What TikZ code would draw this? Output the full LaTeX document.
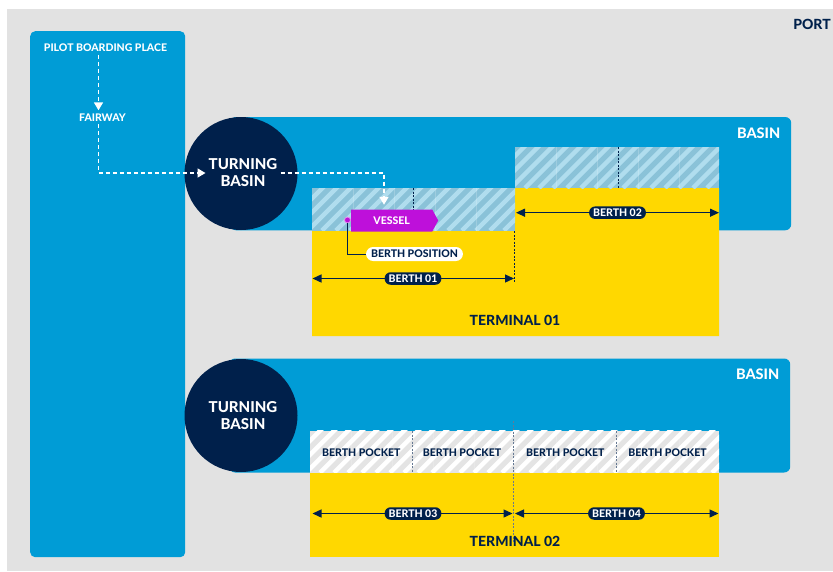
\documentclass[tikz,border=0pt]{standalone}
\usepackage{fontspec}
\setmainfont{Lato}[BoldFont={Lato Heavy}]
\usetikzlibrary{arrows.meta,calc,shapes.symbols}
\definecolor{bgray}{HTML}{E2E2E2}
\definecolor{pblue}{HTML}{009CD6}
\definecolor{navy}{HTML}{00204B}
\definecolor{pyellow}{HTML}{FFD800}
\definecolor{vmag}{HTML}{BE10DA}
\definecolor{hblue}{HTML}{8AC2D8}
\definecolor{hstripe}{HTML}{B0DDEE}
\definecolor{pgray}{HTML}{E4E4E4}
\newcommand{\myhatch}[6]{%
  \fill[#5] (#1,#2) rectangle (#3,#4);
  \begin{scope}
    \clip (#1,#2) rectangle (#3,#4);
    \foreach \k in {-60,-46,...,430} {\draw[#6, line width=4.5pt] ({#1+\k},#4) -- ++(60,-60);}
    \foreach \k in {41,82,...,400} {\draw[white, opacity=.18, line width=.6pt] ({#1+\k},#2) -- ({#1+\k},#4);}
  \end{scope}}
\tikzset{
  wtxt/.style={text=white, font=\bfseries\fontsize{10.5}{12}\selectfont, inner sep=3pt},
  bigw/.style={text=white, font=\bfseries\fontsize{15}{18}\selectfont, align=center, inner sep=3pt},
  basinlbl/.style={text=white, font=\bfseries\fontsize{14.5}{16}\selectfont, inner sep=0pt},
  termlbl/.style={text=navy, font=\bfseries\fontsize{14}{16}\selectfont, inner sep=0pt},
  pocket/.style={text=navy, font=\bfseries\fontsize{10.5}{12}\selectfont, inner sep=0pt},
  basinbox/.style={fill=pblue, rounded corners=6pt, inner sep=0pt, anchor=north west},
  tbasin/.style={circle, fill=navy, minimum size=113pt, inner sep=0pt},
  flow/.style={white, line width=1.6pt, dash pattern=on 4pt off 3pt, -{Triangle[length=8pt,width=9pt]}},
  dim/.style={navy, line width=1.3pt, {Triangle[length=9pt,width=8pt]}-{Triangle[length=9pt,width=8pt]}},
  navypill/.style={fill=navy, text=white, rounded corners=6pt, minimum height=12.5pt, inner xsep=4pt, inner ysep=0pt, font=\bfseries\fontsize{10.5}{11}\selectfont},
  whitepill/.style={fill=white, text=navy, rounded corners=7pt, minimum height=14pt, inner xsep=5pt, inner ysep=0pt, font=\bfseries\fontsize{10.5}{11}\selectfont},
  navydash/.style={navy, line width=.8pt, dash pattern=on 2pt off 1.5pt},
}
\begin{document}
\begin{tikzpicture}[x=1pt,y=-1pt]
\useasboundingbox (0,0) rectangle (833,571);
\fill[bgray] (7,9) rectangle (833,571);
\node[text=navy, font=\bfseries\fontsize{14}{16}\selectfont, anchor=east, inner sep=0pt] (port) at (831,24) {PORT};

% approach channel
\node[fill=pblue, rounded corners=5pt, minimum width=155pt, minimum height=526pt, anchor=north west, inner sep=0pt] (channel) at (30,31) {};
\node[wtxt] (pbp) at (105.5,47.7) {PILOT BOARDING PLACE};
\node[wtxt] (fairway) at (102.5,117.3) {FAIRWAY};
\coordinate (lane) at (98.5,0);

% upper basin and terminal 01
\node[basinbox, minimum width=561pt, minimum height=113.3pt] (basin1) at (230,116.8) {};
\node[basinlbl, anchor=east] (basin1lbl) at (780.5,133) {BASIN};
\fill[pyellow] (312,230) -- (515,230) -- (515,188) -- (719,188) -- (719,336) -- (312,336) -- cycle;
\myhatch{312}{188}{515}{230.5}{hblue}{hstripe}
\myhatch{515}{147}{719}{188}{hblue}{hstripe}
\draw[navydash] (413,188) -- (413,210);
\draw[navydash] (618,147) -- (618,188);
\draw[navydash] (514.5,231) -- (514.5,283);
\node[tbasin] (tb1) at (241,173.5) {};
\node[bigw] (tb1txt) at (243,173) {TURNING\\[-1pt]BASIN};

\node[signal, signal to=east, signal from=nowhere, signal pointer angle=123, fill=vmag, minimum width=87pt, minimum height=22pt, inner sep=0pt, anchor=west, text=white, font=\bfseries\fontsize{10.5}{12}\selectfont] (vessel) at (351,220.5) {VESSEL\hspace{4pt}};
\node[circle, fill=vmag, draw=white!55!vmag, line width=.8pt, minimum size=6pt, inner sep=0pt] (bpdot) at (347.5,220) {};
\node[whitepill] (bppill) at (414.5,254) {BERTH POSITION};
\draw[navy, line width=1pt] (bpdot.south) |- (bppill.west);

\coordinate (drop) at (384,0);
\draw[flow] (fairway.south -| lane) |- (tb1txt.west);
\draw[flow] (tb1txt.east) -| ([yshift=4.5pt]vessel.north -| drop);
\draw[flow] (pbp.south -| lane) -- (fairway.north -| lane);

\coordinate (b1l) at (312.5,278.5);
\coordinate (b1r) at (514,278.5);
\draw[dim] (b1l) -- (b1r);
\node[navypill] (b1lbl) at (413,278.5) {BERTH 01};
\coordinate (b2l) at (516,212.7);
\coordinate (b2r) at (719,212.7);
\draw[dim] (b2l) -- (b2r);
\node[navypill] (b2lbl) at (617.5,212.7) {BERTH 02};
\node[termlbl] (term1) at (515,320.7) {TERMINAL 01};

% lower basin and terminal 02
\node[basinbox, minimum width=561pt, minimum height=114pt] (basin2) at (229,358.3) {};
\node[basinlbl, anchor=east] (basin2lbl) at (779.5,374) {BASIN};
\node[fill=pyellow, minimum width=409pt, minimum height=84.5pt, anchor=north west, inner sep=0pt] (term2box) at (310,472.7) {};
\myhatch{310}{430.7}{719}{472.7}{pgray}{white}
\draw[navydash, navy!60] (412,431) -- (412,473);
\draw[navydash, navy!60] (616.7,431) -- (616.7,473);
\draw[navydash, navy!60] (513.7,421) -- (513.7,542);
\node[tbasin] (tb2) at (241,415.5) {};
\node[bigw] (tb2txt) at (243,415.5) {TURNING\\[-1pt]BASIN};
\node[pocket] (bp1) at (361.3,452.7) {BERTH POCKET};
\node[pocket] (bp2) at (462,452.7) {BERTH POCKET};
\node[pocket] (bp3) at (565.3,452.7) {BERTH POCKET};
\node[pocket] (bp4) at (667.5,452.7) {BERTH POCKET};

\coordinate (b3l) at (312.5,513.5);
\coordinate (b3r) at (512.5,513.5);
\draw[dim] (b3l) -- (b3r);
\node[navypill] (b3lbl) at (413,513.5) {BERTH 03};
\coordinate (b4l) at (515,513.5);
\coordinate (b4r) at (718.5,513.5);
\draw[dim] (b4l) -- (b4r);
\node[navypill] (b4lbl) at (616.5,513.5) {BERTH 04};
\node[termlbl] (term2) at (515,541.7) {TERMINAL 02};
\end{tikzpicture}
\end{document}
